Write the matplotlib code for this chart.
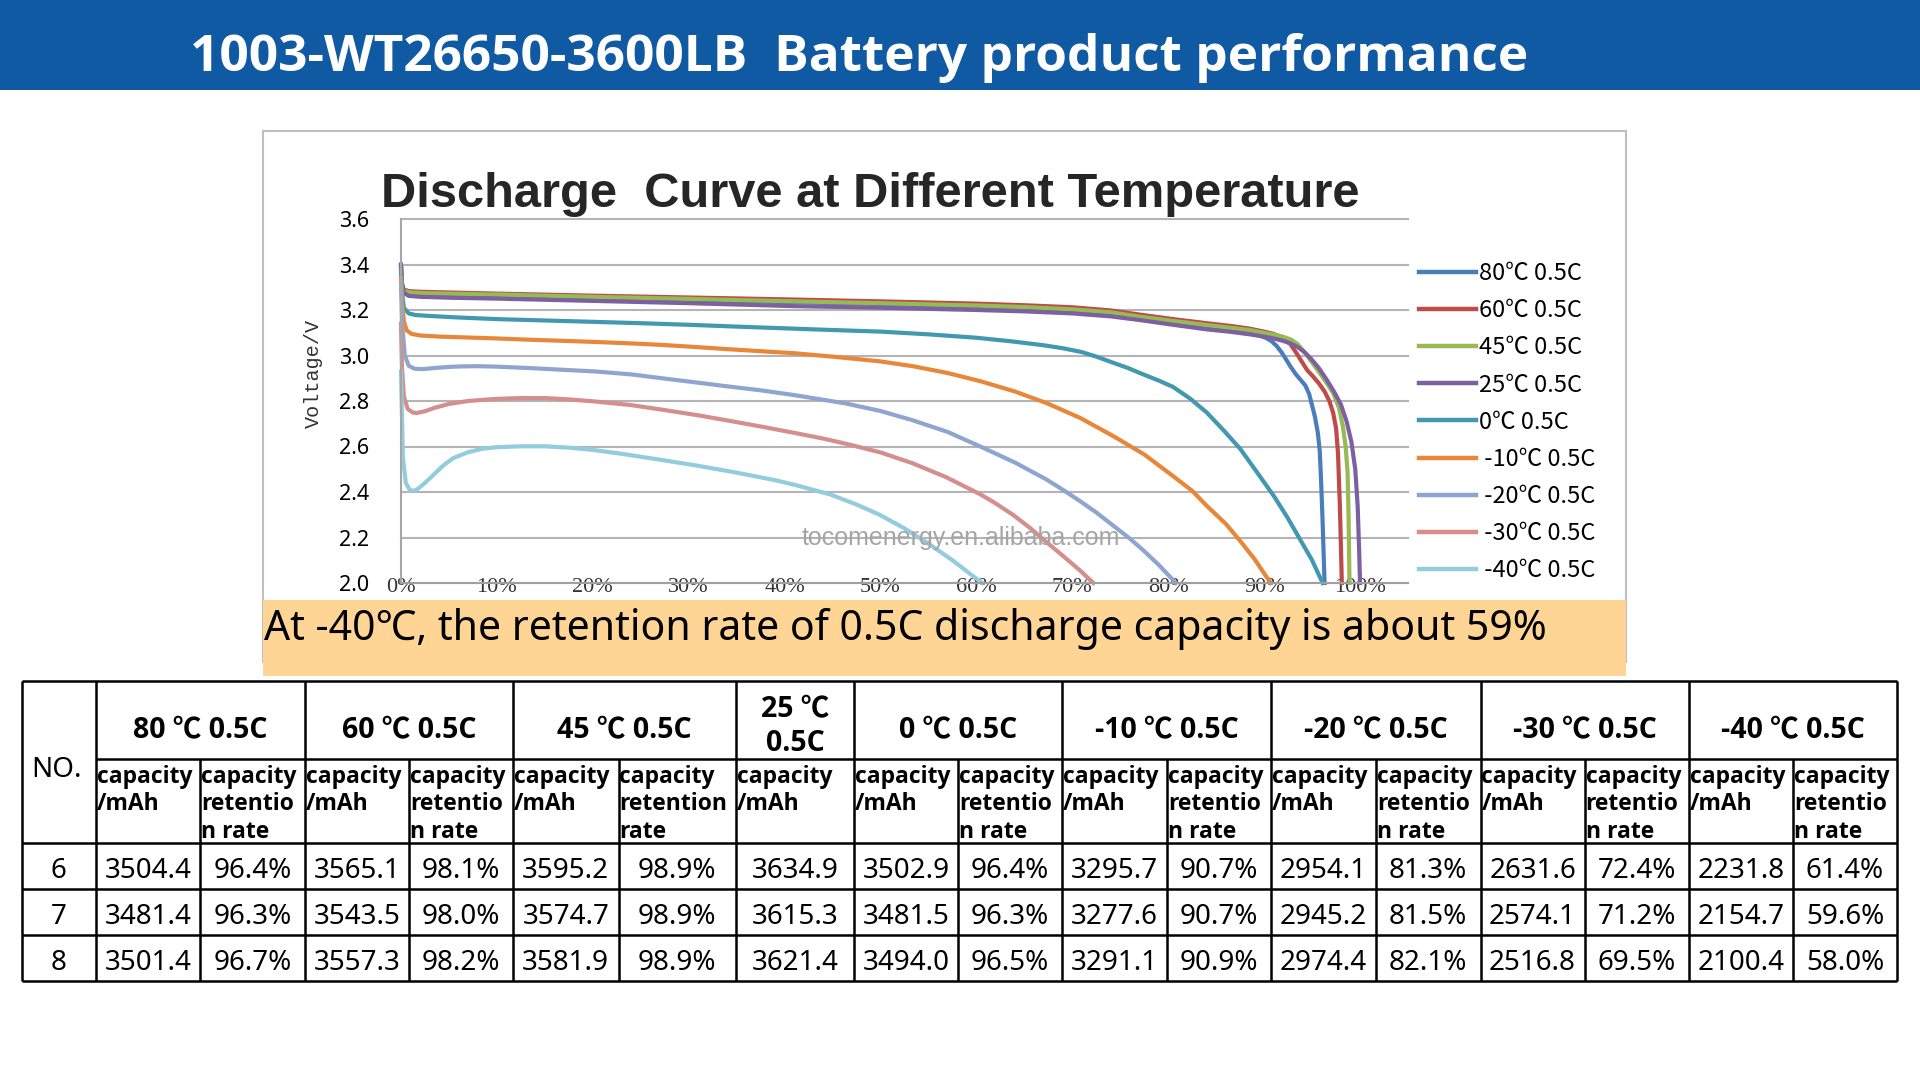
import matplotlib.pyplot as plt
from matplotlib.patches import Rectangle

plt.rcParams['font.family'] = ['Noto Sans', 'Noto Sans CJK SC', 'DejaVu Sans']
BOLD = ['Open Sans', 'Noto Sans CJK SC', 'DejaVu Sans']

# ---- discharge curves: x = discharged capacity (%), v = voltage (V) ----
x_80 = [0, 0.1, 0.3, 0.8, 2, 5, 10, 20, 30, 41, 50, 60, 65, 70, 74, 77, 80.5, 84, 86.5, 88.5, 89.5,
        90.2, 90.8, 91.3, 91.8, 92.3, 92.8, 93.3, 93.8, 94.3, 94.7, 95.0, 95.3, 95.6, 95.8, 95.9, 96.0,
        96.1, 96.3]
v_80 = [3.39, 3.31, 3.28, 3.272, 3.269, 3.266, 3.262, 3.252, 3.244, 3.234, 3.226, 3.215, 3.208, 3.198,
        3.184, 3.165, 3.145, 3.125, 3.11, 3.098, 3.088, 3.077, 3.062, 3.042, 3.015, 2.982, 2.948, 2.918,
        2.893, 2.868, 2.83, 2.78, 2.73, 2.66, 2.58, 2.485, 2.38, 2.266, 2.0]

x_60 = [0, 0.1, 0.3, 0.8, 2, 5, 10, 20, 30, 41, 50, 60, 65, 70, 74, 77, 80.5, 84, 86.5, 88.5, 90, 91,
        92, 92.7, 93.3, 94, 94.5, 95.1, 95.7, 96.3, 96.8, 97.2, 97.5, 97.7, 97.8, 97.9, 98.1]
v_60 = [3.39, 3.31, 3.29, 3.283, 3.28, 3.277, 3.272, 3.263, 3.255, 3.246, 3.238, 3.228, 3.221, 3.212,
        3.198, 3.18, 3.16, 3.142, 3.13, 3.118, 3.105, 3.095, 3.078, 3.052, 3.015, 2.968, 2.935, 2.908,
        2.878, 2.842, 2.8, 2.747, 2.68, 2.572, 2.45, 2.336, 2.0]

x_45 = [0, 0.1, 0.3, 0.8, 2, 5, 10, 20, 30, 41, 50, 60, 65, 70, 74, 77, 80.5, 84, 86.5, 88.5, 90, 91,
        92, 92.8, 93.5, 94.2, 94.9, 95.8, 96.5, 97.2, 97.8, 98.2, 98.5, 98.7, 98.8, 98.9]
v_45 = [3.39, 3.31, 3.285, 3.278, 3.275, 3.272, 3.268, 3.258, 3.249, 3.238, 3.23, 3.22, 3.213, 3.203,
        3.19, 3.171, 3.152, 3.134, 3.122, 3.112, 3.1, 3.092, 3.082, 3.07, 3.05, 3.015, 2.975, 2.923,
        2.88, 2.835, 2.77, 2.69, 2.6, 2.485, 2.3, 2.0]

x_25 = [0, 0.1, 0.3, 0.8, 2, 5, 10, 20, 30, 41, 50, 60, 65, 70, 74, 77, 80.5, 84, 86.5, 88.5, 90, 91,
        92, 92.8, 93.5, 94.2, 94.9, 95.7, 96.5, 97.3, 98, 98.6, 99.1, 99.5, 99.75, 99.9, 100]
v_25 = [3.4, 3.32, 3.275, 3.262, 3.258, 3.254, 3.25, 3.24, 3.23, 3.217, 3.21, 3.2, 3.194, 3.185, 3.172,
        3.156, 3.135, 3.115, 3.104, 3.093, 3.083, 3.075, 3.064, 3.052, 3.037, 3.015, 2.985, 2.945,
        2.895, 2.84, 2.785, 2.71, 2.62, 2.5, 2.34, 2.15, 2.0]

x_0 = [0, 0.1, 0.3, 0.8, 1.5, 2.9, 6, 10, 15, 20, 25, 30, 35, 41, 45, 50, 55, 60, 63.5, 67, 69, 71,
       72.5, 74, 75.8, 77.5, 79, 80.5, 82.3, 84, 85.8, 87.5, 89.2, 91, 92.4, 93.7, 95, 96.1]
v_0 = [3.37, 3.28, 3.21, 3.185, 3.178, 3.174, 3.167, 3.16, 3.154, 3.148, 3.142, 3.135, 3.127, 3.118,
       3.112, 3.105, 3.093, 3.078, 3.063, 3.045, 3.032, 3.015, 2.995, 2.972, 2.945, 2.915, 2.89, 2.862,
       2.81, 2.75, 2.67, 2.59, 2.49, 2.383, 2.29, 2.195, 2.1, 2.0]

x_m10 = [0, 0.1, 0.3, 0.6, 1.1, 2, 4, 6.3, 10, 13, 16.5, 20, 23.5, 27, 30.5, 34, 37.5, 41, 45, 50, 53.5,
         57, 60.5, 64, 67.3, 70.8, 74.3, 77.5, 80.5, 82.5, 84, 86, 87.5, 89, 90.2, 90.7]
v_m10 = [3.34, 3.25, 3.15, 3.11, 3.095, 3.088, 3.083, 3.08, 3.075, 3.07, 3.065, 3.06, 3.054, 3.047,
         3.038, 3.028, 3.019, 3.01, 2.995, 2.974, 2.952, 2.923, 2.886, 2.842, 2.791, 2.726, 2.645, 2.565,
         2.47, 2.405, 2.34, 2.26, 2.185, 2.105, 2.03, 2.0]

x_m20 = [0, 0.1, 0.4, 0.8, 1.4, 2.2, 3.5, 5, 6.3, 8, 10, 13.3, 16.5, 20.2, 24, 27.2, 30.5, 34.1, 37.5,
         41, 43.5, 46.4, 50, 53.3, 57, 60.4, 64, 67.3, 69, 70.8, 72.5, 74.3, 76, 77.5, 79, 80.8]
v_m20 = [3.32, 3.15, 3.0, 2.955, 2.942, 2.94, 2.945, 2.95, 2.952, 2.953, 2.951, 2.945, 2.938, 2.93,
         2.917, 2.90, 2.883, 2.864, 2.847, 2.826, 2.809, 2.789, 2.756, 2.716, 2.664, 2.60, 2.53, 2.455,
         2.41, 2.36, 2.31, 2.251, 2.195, 2.14, 2.08, 2.0]

x_m30 = [0, 0.1, 0.3, 0.7, 1.2, 1.6, 2.5, 3.5, 5, 7, 9.8, 12.5, 15, 17.5, 20.2, 24, 27.2, 31, 34.1, 37.5,
         41, 44, 46.4, 50, 53.3, 56.8, 60.4, 62, 63.8, 65.5, 67.3, 69, 70.8, 72.2]
v_m30 = [3.14, 2.95, 2.82, 2.765, 2.75, 2.747, 2.755, 2.77, 2.787, 2.8, 2.809, 2.813, 2.813, 2.807,
         2.798, 2.782, 2.762, 2.737, 2.714, 2.688, 2.66, 2.635, 2.612, 2.574, 2.527, 2.466, 2.39, 2.35,
         2.30, 2.245, 2.18, 2.12, 2.055, 2.0]

x_m40 = [0, 0.2, 0.5, 0.9, 1.3, 1.8, 2.5, 3.5, 4.5, 5.5, 7, 8.5, 10, 12.5, 15, 17.5, 20, 23, 27, 31, 35,
         39, 41, 44.7, 47.5, 49.9, 52.5, 55.1, 57.5, 59.5, 60.6]
v_m40 = [2.93, 2.55, 2.44, 2.41, 2.405, 2.415, 2.44, 2.48, 2.52, 2.55, 2.575, 2.59, 2.597, 2.601, 2.601,
         2.595, 2.585, 2.568, 2.542, 2.515, 2.485, 2.452, 2.432, 2.39, 2.345, 2.30, 2.24, 2.17, 2.10,
         2.035, 2.0]

series_x = [x_80, x_60, x_45, x_25, x_0, x_m10, x_m20, x_m30, x_m40]
series_v = [v_80, v_60, v_45, v_25, v_0, v_m10, v_m20, v_m30, v_m40]
labels = ["80℃ 0.5C", "60℃ 0.5C", "45℃ 0.5C", "25℃ 0.5C", "0℃ 0.5C",
          " -10℃ 0.5C", " -20℃ 0.5C", " -30℃ 0.5C", " -40℃ 0.5C"]
colors = ["#4A7EBB", "#BE4B48", "#98B954", "#7D60A0", "#4198AF",
          "#E8873A", "#8EA6CF", "#D58E8E", "#93CDDD"]

x_ticks = [0, 10, 20, 30, 40, 50, 60, 70, 80, 90, 100]
y_ticks = [2.0, 2.2, 2.4, 2.6, 2.8, 3.0, 3.2, 3.4, 3.6]

# ---- table data ----
group_labels = ["80 ℃ 0.5C", "60 ℃ 0.5C", "45 ℃ 0.5C", "25 ℃\n0.5C", "0 ℃ 0.5C",
                "-10 ℃ 0.5C", "-20 ℃ 0.5C", "-30 ℃ 0.5C", "-40 ℃ 0.5C"]
sample_no = ["6", "7", "8"]
cap_80 = ["3504.4", "3481.4", "3501.4"]
ret_80 = ["96.4%", "96.3%", "96.7%"]
cap_60 = ["3565.1", "3543.5", "3557.3"]
ret_60 = ["98.1%", "98.0%", "98.2%"]
cap_45 = ["3595.2", "3574.7", "3581.9"]
ret_45 = ["98.9%", "98.9%", "98.9%"]
cap_25 = ["3634.9", "3615.3", "3621.4"]
cap_0 = ["3502.9", "3481.5", "3494.0"]
ret_0 = ["96.4%", "96.3%", "96.5%"]
cap_m10 = ["3295.7", "3277.6", "3291.1"]
ret_m10 = ["90.7%", "90.7%", "90.9%"]
cap_m20 = ["2954.1", "2945.2", "2974.4"]
ret_m20 = ["81.3%", "81.5%", "82.1%"]
cap_m30 = ["2631.6", "2574.1", "2516.8"]
ret_m30 = ["72.4%", "71.2%", "69.5%"]
cap_m40 = ["2231.8", "2154.7", "2100.4"]
ret_m40 = ["61.4%", "59.6%", "58.0%"]

table_cols = [cap_80, ret_80, cap_60, ret_60, cap_45, ret_45, cap_25, cap_0, ret_0,
              cap_m10, ret_m10, cap_m20, ret_m20, cap_m30, ret_m30, cap_m40, ret_m40]
sub_cap = ["capacity", "/mAh"]
sub_ret = ["capacity", "retentio", "n rate"]
sub_ret_wide = ["capacity", "retention", "rate"]
sub_headers = [sub_cap, sub_ret, sub_cap, sub_ret, sub_cap, sub_ret_wide, sub_cap, sub_cap, sub_ret,
               sub_cap, sub_ret, sub_cap, sub_ret, sub_cap, sub_ret, sub_cap, sub_ret]
group_spans = [(1, 2), (3, 4), (5, 6), (7, 7), (8, 9), (10, 11), (12, 13), (14, 15), (16, 17)]

# layout (pixels)
W, H = 1920, 1080
col_edges = [22, 95.5, 200, 305, 409, 513, 618.5, 736, 854, 958, 1062, 1167, 1271, 1376,
             1480.5, 1584.6, 1689, 1793, 1897]
row_edges = [681, 759, 843, 889, 935, 981]

fig = plt.figure(figsize=(19.2, 10.8), dpi=100)
bg = fig.add_axes([0, 0, 1, 1])
bg.set_xlim(0, W)
bg.set_ylim(H, 0)
bg.axis('off')

# header bar
bg.add_patch(Rectangle((0, 0), W, 90, color="#0F5AA2", lw=0))
bg.text(190, 71, "1003-WT26650-3600LB  Battery product performance", color="white",
        family=BOLD, fontsize=37, fontweight="bold", ha="left", va="baseline")

# chart frame and banner
bg.add_patch(Rectangle((263, 131), 1363, 531, facecolor="white", edgecolor="#BFBFBF", lw=1.5))
bg.add_patch(Rectangle((263, 600), 1363, 76, color="#FFD596", lw=0))
bg.text(264, 640, "At -40℃, the retention rate of 0.5C discharge capacity is about 59%",
        fontsize=29.5, ha="left", va="baseline", color="black")
bg.text(381, 207, "Discharge  Curve at Different Temperature", family="Liberation Sans",
        fontsize=35.2, fontweight="bold", color="#262626", ha="left", va="baseline")

# ---- chart ----
ax = fig.add_axes([401 / W, 1 - 583 / H, 1007 / W, 364 / H])
ax.set_facecolor("none")
lines = []
for xs, vs, c, lab in zip(series_x, series_v, colors, labels):
    ln, = ax.plot(xs, vs, color=c, lw=3.0, label=lab, solid_joinstyle="round", clip_on=False)
    lines.append(ln)

ax.set_xlim(0, 105)
ax.set_ylim(2.0, 3.6)
ax.set_xticks(x_ticks)
ax.set_xticklabels([f"{t}%" for t in x_ticks], family="Liberation Serif", fontsize=16, color="#333333")
ax.set_yticks(y_ticks)
ax.set_yticklabels([f"{t:.1f}" for t in y_ticks], fontsize=15.5, color="black")
ax.tick_params(axis="x", length=0, pad=-3.6)
ax.tick_params(axis="y", length=0, pad=23)
ax.yaxis.grid(True, color="#B4B4B4", lw=1.5)
for gl in ax.get_ygridlines():
    gl.set_clip_on(False)
ax.set_axisbelow(True)
for s in ["top", "right"]:
    ax.spines[s].set_visible(False)
ax.spines["bottom"].set_color("#A0A0A0")
ax.spines["bottom"].set_linewidth(1.5)
ax.spines["left"].set_color("#A6A6A6")
ax.spines["left"].set_linewidth(1.5)

ax.text(-0.0874, 0.577, "Voltage/V", transform=ax.transAxes, rotation=90, ha="center", va="center",
        family="Liberation Mono", fontsize=14.5, color="#333333")
ax.text(58.4, 2.198, "tocomenergy.en.alibaba.com", family="Liberation Sans", fontsize=18,
        color="#A5A5A5", ha="center", va="center")

leg = ax.legend(handles=lines, loc="upper left", bbox_to_anchor=(1419 / W, 1 - 262 / H),
                bbox_transform=fig.transFigure, frameon=False,
                prop={"family": ["Noto Sans CJK SC"], "size": 17}, borderpad=0,
                borderaxespad=0, handlelength=2.4, handletextpad=0.13, labelspacing=0.6)
for h in leg.legend_handles:
    h.set_linewidth(3.2)

# ---- table ----
tw = 1.8
x0, x1 = col_edges[0], col_edges[-1]
bg.hlines([row_edges[0], row_edges[2], row_edges[3], row_edges[4], row_edges[5]], x0, x1,
          color="black", lw=tw)
bg.hlines(row_edges[1], col_edges[1], x1, color="black", lw=tw)
group_edges = [col_edges[0], col_edges[1]] + [col_edges[b + 1] for a, b in group_spans]
bg.vlines(group_edges, row_edges[0], row_edges[-1], color="black", lw=tw)
inner = [col_edges[a + 1] for a, b in group_spans if b > a]
bg.vlines(inner, row_edges[1], row_edges[-1], color="black", lw=tw)

bg.text((col_edges[0] + col_edges[1]) / 2 - 2, 777, "NO.", fontsize=20, ha="center", va="baseline")
for (a, b), lab in zip(group_spans, group_labels):
    cx = (col_edges[a] + col_edges[b + 1]) / 2
    parts = lab.split("\n")
    if len(parts) == 1:
        bg.text(cx, 738, lab, family=BOLD, fontsize=20.5, fontweight="bold", ha="center", va="baseline")
    else:
        bg.text(cx, 717, parts[0], family=BOLD, fontsize=20.5, fontweight="bold", ha="center", va="baseline")
        bg.text(cx, 751, parts[1], family=BOLD, fontsize=20.5, fontweight="bold", ha="center", va="baseline")

sub_baselines = [783, 810.5, 838]
for i, sub in enumerate(sub_headers):
    left = col_edges[i + 1] + 1
    for j, word in enumerate(sub):
        bg.text(left, sub_baselines[j], word, family=BOLD, fontsize=16.5, fontweight="bold",
                ha="left", va="baseline")

for r in range(3):
    yb = (row_edges[r + 2] + row_edges[r + 3]) / 2 + 12
    bg.text((col_edges[0] + col_edges[1]) / 2, yb, sample_no[r], fontsize=20, ha="center", va="baseline")
    for i, col in enumerate(table_cols):
        cx = (col_edges[i + 1] + col_edges[i + 2]) / 2
        bg.text(cx, yb, col[r], fontsize=20, ha="center", va="baseline")

fig.savefig("out.png", dpi=100, facecolor="white")
